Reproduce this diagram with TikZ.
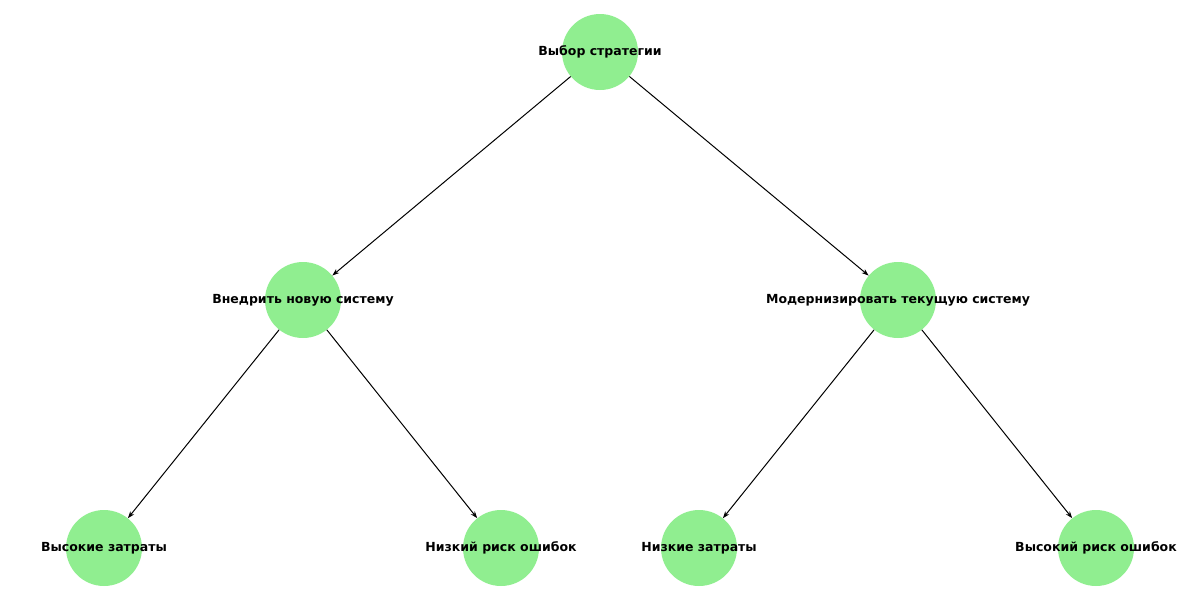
\documentclass[tikz,border=0pt]{standalone}
\usepackage{fontspec}
\setmainfont{DejaVu Sans}
\usetikzlibrary{arrows.meta}
\begin{document}
\begin{tikzpicture}[x=1pt,y=-1pt,
  n/.style={circle,fill=green!45!white,fill={rgb,255:red,144;green,238;blue,144},minimum size=76pt,inner sep=0pt},
  t/.style={font=\bfseries\fontsize{12.5}{14}\selectfont},
  e/.style={-{Stealth[length=7pt,width=5pt]},line width=1pt}]
\useasboundingbox (0,0) rectangle (1200,600);
\node[n] (a) at (600,52) {};
\node[n] (b) at (303,300) {};
\node[n] (c) at (898,300) {};
\node[n] (d) at (104,548) {};
\node[n] (e1) at (501,548) {};
\node[n] (f) at (699,548) {};
\node[n] (g) at (1096,548) {};
\draw[e] (a) -- (b);
\draw[e] (a) -- (c);
\draw[e] (b) -- (d);
\draw[e] (b) -- (e1);
\draw[e] (c) -- (f);
\draw[e] (c) -- (g);
\node[t] at (a) {Выбор стратегии};
\node[t] at (b) {Внедрить новую систему};
\node[t] at (c) {Модернизировать текущую систему};
\node[t] at (d) {Высокие затраты};
\node[t] at (e1) {Низкий риск ошибок};
\node[t] at (f) {Низкие затраты};
\node[t] at (g) {Высокий риск ошибок};
\end{tikzpicture}
\end{document}
